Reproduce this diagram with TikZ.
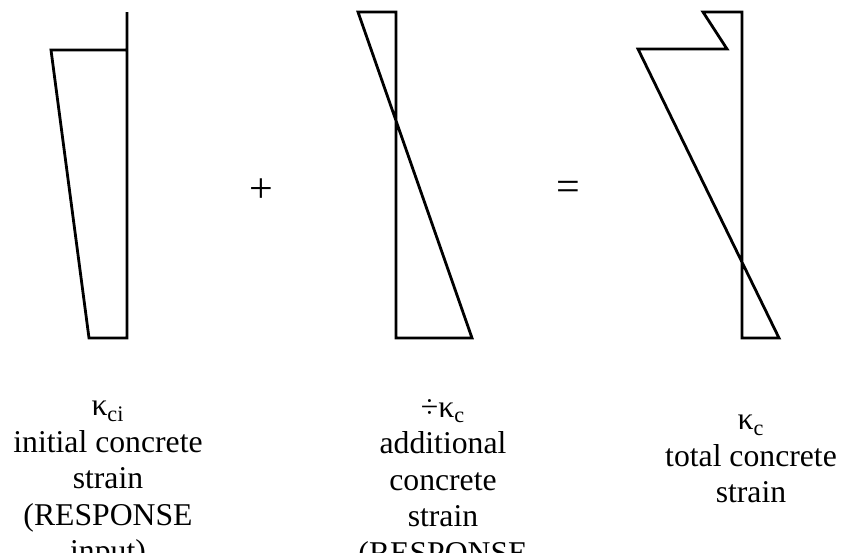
\documentclass[tikz,border=0pt]{standalone}
\usepackage{fontspec}
\setmainfont{Liberation Serif}

\begin{document}
\begin{tikzpicture}[
  x=0.5pt,y=-0.5pt,
  strain/.style={draw=black,line width=1.4pt,line join=miter},
  sign/.style={font=\fontsize{21}{24}\selectfont,inner sep=0pt},
  lab/.style={align=center,anchor=north,inner sep=0pt,font=\fontsize{15.85}{18.25}\selectfont}
]
\useasboundingbox (0,0) rectangle (845,552);
\clip (0,0) rectangle (845,552);

\def\ytop{12}
\def\ybot{338}

% initial strain
\draw[strain] (127,\ytop) -- (127,\ybot) -- (89,\ybot) -- (51,50) -- (127,50);

% additional strain
\draw[strain] (396,\ytop) -- (396,\ybot) -- (472,\ybot) -- (358,\ytop) -- cycle;

% total strain
\draw[strain] (742,\ytop) -- (742,\ybot) -- (779,\ybot) -- (638,49) -- (727,49) -- (703,\ytop) -- cycle;

\node[sign] (plus) at (261,191) {+};
\node[sign] (equal) at (568,191) {=};

\node[lab] (kci) at (108,401) {κ\textsubscript{ci}\\initial concrete\\strain\\(RESPONSE\\input)};
\node[lab] (dkc) at (443,399) {÷κ\textsubscript{c}\\additional\\concrete\\strain\\(RESPONSE};
\node[lab] (kc) at (751,415) {κ\textsubscript{c}\\total concrete\\strain};

\end{tikzpicture}
\end{document}
